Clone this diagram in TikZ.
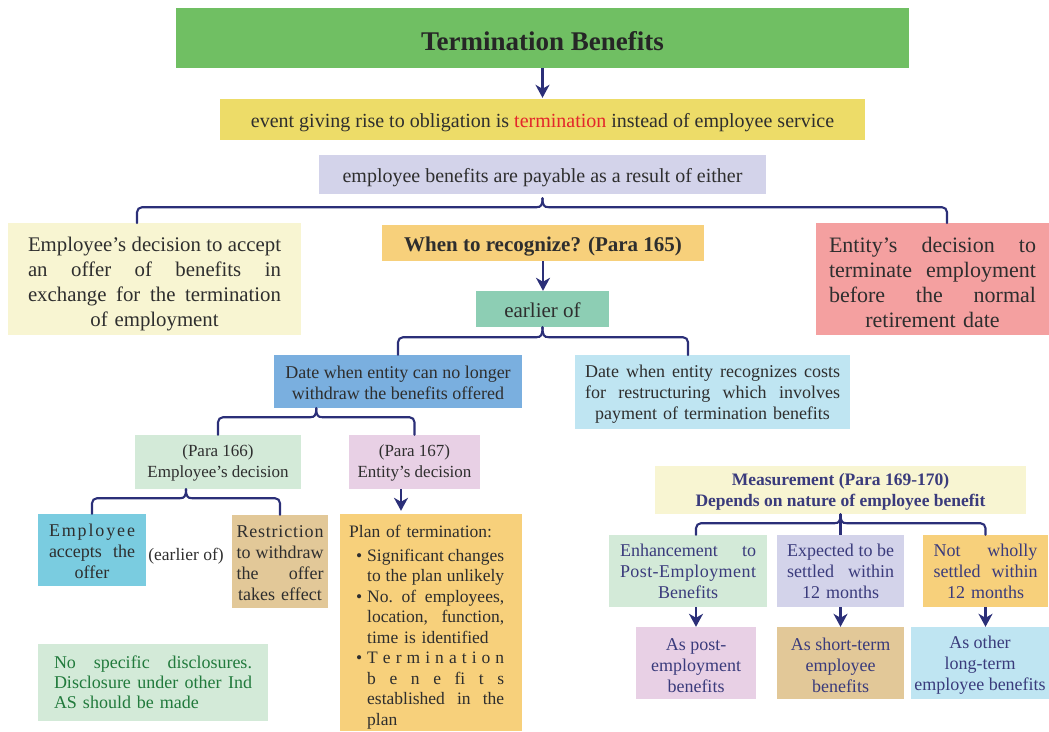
\documentclass[tikz,border=0pt]{standalone}
\usepackage{fontspec}
\setmainfont{Liberation Serif}
\usetikzlibrary{arrows.meta,calc}
\definecolor{cgreen}{HTML}{70BF63}
\definecolor{cyellow}{HTML}{EDDC68}
\definecolor{clav}{HTML}{D3D3EA}
\definecolor{ccream}{HTML}{F8F5D2}
\definecolor{corange}{HTML}{F7D07B}
\definecolor{cpink}{HTML}{F4A0A0}
\definecolor{cteal}{HTML}{8DCEB4}
\definecolor{cblue}{HTML}{7AAFDF}
\definecolor{clblue}{HTML}{BFE5F2}
\definecolor{clgreen}{HTML}{D3EAD8}
\definecolor{clpurple}{HTML}{E8D0E5}
\definecolor{ccyan}{HTML}{7ACCE0}
\definecolor{ctan}{HTML}{E2C898}
\definecolor{txt}{HTML}{2E2E2E}
\definecolor{navyt}{HTML}{3A3B7C}
\definecolor{navyl}{HTML}{2B2F78}
\definecolor{cred}{HTML}{E3262B}
\definecolor{dgreen}{HTML}{217A3C}
\newcommand\sjust{\spaceskip=0.25em plus 1fil minus 0.05em\relax}
\newcommand\jl[1]{\makebox[\linewidth][s]{\sjust #1}}
\newcommand\fsz[2]{\fontsize{#1}{#2}\selectfont}
\newcommand\dn[1]{\rule{0pt}{\dimexpr0.7em+#1pt*2\relax}}
\newcommand\pb[1]{\makebox[18pt][l]{\hspace{7pt}\textbullet}\makebox[137pt][s]{\sjust #1}}
\newcommand\pc[1]{\hspace*{18pt}\makebox[137pt][s]{\sjust #1}}
\newcommand\pl[1]{\hspace*{18pt}#1}
\newcommand\bracelink[4]{%
  \draw[bconn, rounded corners=5pt] (#2) |- ($(#1)+(-6,#4)$);
  \draw[bconn] ($(#1)+(-6,#4)$) .. controls ($(#1)+(-1.5,#4)$) and ($(#1)+(0,#4-2)$) .. (#1);
  \draw[bconn] (#1) .. controls ($(#1)+(0,#4-2)$) and ($(#1)+(1.5,#4)$) .. ($(#1)+(6,#4)$);
  \draw[bconn, rounded corners=5pt] ($(#1)+(6,#4)$) -| (#3);
}
\tikzset{
  box/.style={draw=none, inner sep=0pt, align=center, text=txt},
  conn/.style={draw=navyl, line width=2.1pt},
  bconn/.style={conn, line cap=round},
  arr/.style={conn, -{Stealth[length=13pt,width=14pt,inset=4pt]}},
}
\begin{document}
\begin{tikzpicture}[x=1pt,y=-1pt]
\useasboundingbox (0,0) rectangle (1049,731);
% top
\node[box, fill=cgreen, minimum width=733, minimum height=60, font=\fsz{27}{30}\bfseries, text=black!85] (title) at (542.5,38) {\dn{3}Termination Benefits};
\node[box, fill=cyellow, minimum width=645, minimum height=41, font=\fsz{20}{24}] (event) at (542.5,119.5) {\dn{3}event giving rise to obligation is \textcolor{cred}{termination} instead of employee service};
\node[box, fill=clav, minimum width=447, minimum height=39, font=\fsz{20}{24}] (lav) at (542.5,174.5) {\dn{3}employee benefits are payable as a result of either};
\node[box, fill=ccream, minimum width=293, minimum height=112, text width=253, font=\fsz{20.8}{25}] (empdec) at (154.5,279) {\dn{4.5}\jl{Employee's decision to accept}\\ \jl{an offer of benefits in}\\ \jl{exchange for the termination}\\ of employment};
\node[box, fill=cpink, minimum width=233, minimum height=112, text width=207, font=\fsz{22}{25}] (entdec) at (932.5,279) {\dn{3}\jl{Entity's decision to}\\ \jl{terminate employment}\\ \jl{before the normal}\\ retirement date};
\node[box, fill=corange, minimum width=322, minimum height=36, font=\fsz{21}{24}\bfseries] (when) at (543,243) {\dn{3}When to recognize? (Para 165)};
\node[box, fill=cteal, minimum width=133, minimum height=36, font=\fsz{21}{24}] (earlier) at (542.5,309) {\dn{1.5}earlier of};
\node[box, fill=cblue, minimum width=248, minimum height=53, font=\fsz{18}{21}] (datew) at (398,381.5) {\dn{1}Date when entity can no longer\\withdraw the benefits offered};
\node[box, fill=clblue, minimum width=275, minimum height=74, text width=255, font=\fsz{18}{21}] (datec) at (712.5,392) {\dn{2}\jl{Date when entity recognizes costs}\\ \jl{for restructuring which involves}\\ payment of termination benefits};
\node[box, fill=clgreen, minimum width=166, minimum height=54, font=\fsz{17}{21}] (p166) at (218,462) {\dn{1}(Para 166)\\Employee's decision};
\node[box, fill=clpurple, minimum width=131, minimum height=54, font=\fsz{17}{21}] (p167) at (414.5,462) {\dn{1}(Para 167)\\Entity's decision};
\node[box, fill=ccyan, minimum width=108, minimum height=72, text width=86, font=\fsz{18}{21}] (accepts) at (92,550) {\dn{1.5}\jl{E\hfill m\hfill p\hfill l\hfill o\hfill y\hfill e\hfill e}\\ \jl{accepts the}\\ offer};
\node[box, font=\fsz{17.5}{21}] (eo) at (186,556) {(earlier of)};
\node[box, fill=ctan, minimum width=96, minimum height=93, text width=87, font=\fsz{18}{21}] (restr) at (280,561.5) {\dn{1.5}\jl{R\hfill e\hfill s\hfill t\hfill r\hfill i\hfill c\hfill t\hfill i\hfill o\hfill n}\\ \jl{to withdraw}\\ \jl{the offer}\\ takes effect};
\node[box, fill=corange, minimum width=182, minimum height=217] (plan) at (431,622.5) {};
\node[box, align=left, text width=155, anchor=north west, font=\fsz{17.5}{20.5}] (plantext) at (349,525) {Plan of termination:\\[3pt]
\pb{Significant changes}\\
\pc{to the plan unlikely}\\
\pb{No. of employees,}\\
\pc{location, function,}\\
\pl{time is identified}\\
\pb{T\hfill e\hfill r\hfill m\hfill i\hfill n\hfill a\hfill t\hfill i\hfill o\hfill n}\\
\pc{b\hfill e\hfill n\hfill e\hfill fi\hfill t\hfill s}\\
\pc{established in the}\\
\pl{plan}};
\node[box, fill=clgreen, minimum width=230, minimum height=77, text width=198, align=left, text=dgreen, font=\fsz{18}{20}] (nodisc) at (153,682.5) {\jl{No specific disclosures.}\\ \jl{Disclosure under other Ind}\\ AS should be made};
% measurement
\node[box, fill=ccream, minimum width=371, minimum height=48, text=navyt, font=\fsz{17.5}{20.5}\bfseries] (meas) at (840.5,490) {\dn{2}Measurement (Para 169-170)\\Depends on nature of employee benefit};
\node[box, fill=clgreen, minimum width=158, minimum height=72, text width=136, text=navyt, font=\fsz{18}{21}] (enh) at (688,571) {\dn{0.5}\jl{Enhancement to}\\ \jl{P\hfill o\hfill s\hfill t\hfill -\hfill E\hfill m\hfill p\hfill l\hfill o\hfill y\hfill m\hfill e\hfill n\hfill t}\\ Benefits};
\node[box, fill=clav, minimum width=127, minimum height=72, text width=107, text=navyt, font=\fsz{18}{21}] (exp) at (840.5,571) {\dn{0.5}\jl{Expected to be}\\ \jl{settled within}\\ 12 months};
\node[box, fill=corange, minimum width=125, minimum height=72, text width=104, text=navyt, font=\fsz{18}{21}] (notw) at (985.5,571) {\dn{0.5}\jl{Not wholly}\\ \jl{settled within}\\ 12 months};
\node[box, fill=clpurple, minimum width=120, minimum height=72, text=navyt, font=\fsz{18}{21}] (aspost) at (696,663) {\dn{2}As post-\\employment\\benefits};
\node[box, fill=ctan, minimum width=127, minimum height=72, text=navyt, font=\fsz{18}{21}] (asshort) at (840.5,663) {\dn{2}As short-term\\employee\\benefits};
\node[box, fill=clblue, minimum width=138, minimum height=72, text=navyt, font=\fsz{18}{21}] (asother) at (980,663) {\dn{2}As other\\long-term\\employee benefits};
% connectors
\draw[arr] (title.south) -- ($(event.north)+(0,-1)$);
\coordinate (tbtip) at ($(lav.south)+(0,4)$);
\coordinate (tbl) at (137,223);
\coordinate (tbr) at (947,223);
\bracelink{tbtip}{tbl}{tbr}{9}
\draw[arr] (when.south) -- (when.south |- earlier.north);
\coordinate (ebr) at (688,355);
\bracelink{earlier.south}{datew.north}{ebr}{10}
\coordinate (dwm) at ($(p166.north)!0.5!(p167.north)$);
\coordinate (dwtip) at (dwm |- datew.south);
\bracelink{dwtip}{p166.north}{p167.north}{9}
\coordinate (pem) at ($(accepts.north)!0.5!(restr.north)$);
\coordinate (petip) at (pem |- p166.south);
\bracelink{petip}{accepts.north}{restr.north}{9}
\coordinate (pa) at ($(p167.south)+(-13.5,0)$);
\draw[arr] (pa) -- ($(pa |- plan.north)+(0,-3)$);
\coordinate (ml) at (aspost.north |- enh.north);
\bracelink{meas.south}{ml}{notw.north}{9}
\draw[conn] (meas.south) -- (exp.north);
\draw[arr] (aspost.north |- enh.south) -- (aspost.north);
\draw[arr] (exp.south) -- (asshort.north);
\draw[arr] (notw.south) -- (notw.south |- asother.north);
\end{tikzpicture}
\end{document}
